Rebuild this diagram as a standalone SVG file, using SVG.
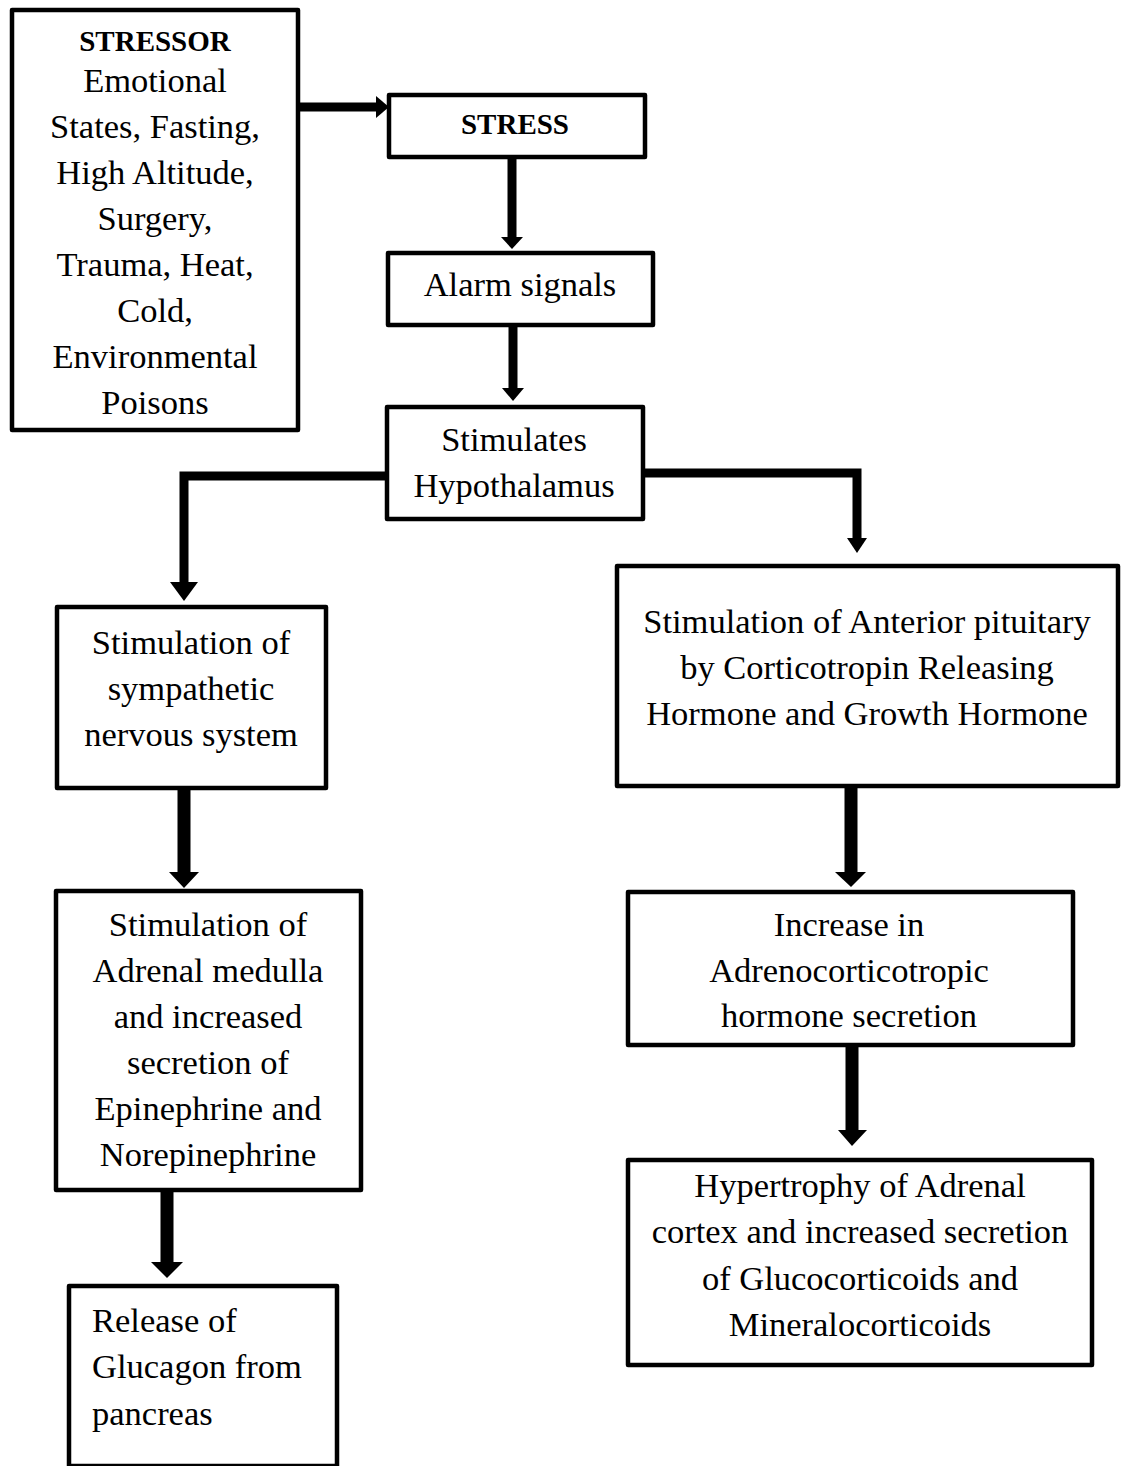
<svg xmlns="http://www.w3.org/2000/svg" width="1125" height="1466" viewBox="0 0 1125 1466">
<style>
.box{fill:#fff;stroke:#000;stroke-width:4.5;stroke-linejoin:round}
.t{font-family:"Liberation Serif","Times New Roman",serif;font-size:34.5px;fill:#000;text-anchor:middle}
.b{font-weight:bold;font-size:29px}
.l{text-anchor:start}
.sh{fill:none;stroke:#000;stroke-width:9;stroke-linejoin:miter}
.sh2{fill:none;stroke:#000;stroke-width:13}
.hd{fill:#000}
</style>
<rect width="1125" height="1466" fill="#fff"/>
<g id="connectors">
<line class="sh" x1="299" y1="107" x2="378" y2="107"/>
<polygon class="hd" points="376,96 389,107 376,118"/>
<line class="sh" x1="512" y1="158" x2="512" y2="240"/>
<polygon class="hd" points="501,237 523,237 512,249"/>
<line class="sh" x1="513" y1="325" x2="513" y2="391"/>
<polygon class="hd" points="502,388 524,388 513,401"/>
<polyline class="sh" points="387,476 184,476 184,585"/>
<polygon class="hd" points="170,582 198,582 184,601"/>
<polyline class="sh" points="642,473 857,473 857,540"/>
<polygon class="hd" points="847,538 867,538 857,553"/>
<line class="sh2" x1="184" y1="788" x2="184" y2="874"/>
<polygon class="hd" points="169,872 199,872 184,888"/>
<line class="sh2" x1="851" y1="788" x2="851" y2="874"/>
<polygon class="hd" points="835,872 866,872 851,887"/>
<line class="sh2" x1="167" y1="1190" x2="167" y2="1264"/>
<polygon class="hd" points="151,1262 183,1262 167,1278"/>
<line class="sh2" x1="852" y1="1045" x2="852" y2="1132"/>
<polygon class="hd" points="838,1130 867,1130 852,1146"/>
</g>
<g id="stressor">
<rect class="box" x="12" y="10" width="286" height="420"/>
<text class="t b" x="155" y="51">STRESSOR</text>
<text class="t" x="155" y="92">Emotional</text>
<text class="t" x="155" y="138">States, Fasting,</text>
<text class="t" x="155" y="184">High Altitude,</text>
<text class="t" x="155" y="230">Surgery,</text>
<text class="t" x="155" y="276">Trauma, Heat,</text>
<text class="t" x="155" y="322">Cold,</text>
<text class="t" x="155" y="368">Environmental</text>
<text class="t" x="155" y="414">Poisons</text>
</g>
<g id="stress">
<rect class="box" x="389" y="95" width="256" height="62"/>
<text class="t b" x="515" y="134">STRESS</text>
</g>
<g id="alarm">
<rect class="box" x="388" y="253" width="265" height="72"/>
<text class="t" x="520" y="296">Alarm signals</text>
</g>
<g id="hypothalamus">
<rect class="box" x="387" y="407" width="256" height="112"/>
<text class="t" x="514" y="451">Stimulates</text>
<text class="t" x="514" y="497">Hypothalamus</text>
</g>
<g id="sympathetic">
<rect class="box" x="57" y="607" width="269" height="181"/>
<text class="t" x="191" y="654">Stimulation of</text>
<text class="t" x="191" y="700">sympathetic</text>
<text class="t" x="191" y="746">nervous system</text>
</g>
<g id="pituitary">
<rect class="box" x="617" y="566" width="501" height="220"/>
<text class="t" x="867" y="633">Stimulation of Anterior pituitary</text>
<text class="t" x="867" y="679">by Corticotropin Releasing</text>
<text class="t" x="867" y="725">Hormone and Growth Hormone</text>
</g>
<g id="medulla">
<rect class="box" x="56" y="891" width="305" height="299"/>
<text class="t" x="208" y="936">Stimulation of</text>
<text class="t" x="208" y="982">Adrenal medulla</text>
<text class="t" x="208" y="1028">and increased</text>
<text class="t" x="208" y="1074">secretion of</text>
<text class="t" x="208" y="1120">Epinephrine and</text>
<text class="t" x="208" y="1166">Norepinephrine</text>
</g>
<g id="glucagon">
<rect class="box" x="69" y="1286" width="268" height="180"/>
<text class="t l" x="92" y="1332">Release of</text>
<text class="t l" x="92" y="1378">Glucagon from</text>
<text class="t l" x="92" y="1425">pancreas</text>
</g>
<g id="acth">
<rect class="box" x="628" y="892" width="445" height="153"/>
<text class="t" x="849" y="936">Increase in</text>
<text class="t" x="849" y="982">Adrenocorticotropic</text>
<text class="t" x="849" y="1027">hormone secretion</text>
</g>
<g id="cortex">
<rect class="box" x="628" y="1160" width="464" height="205"/>
<text class="t" x="860" y="1197">Hypertrophy of Adrenal</text>
<text class="t" x="860" y="1243">cortex and increased secretion</text>
<text class="t" x="860" y="1290">of Glucocorticoids and</text>
<text class="t" x="860" y="1336">Mineralocorticoids</text>
</g>
</svg>
